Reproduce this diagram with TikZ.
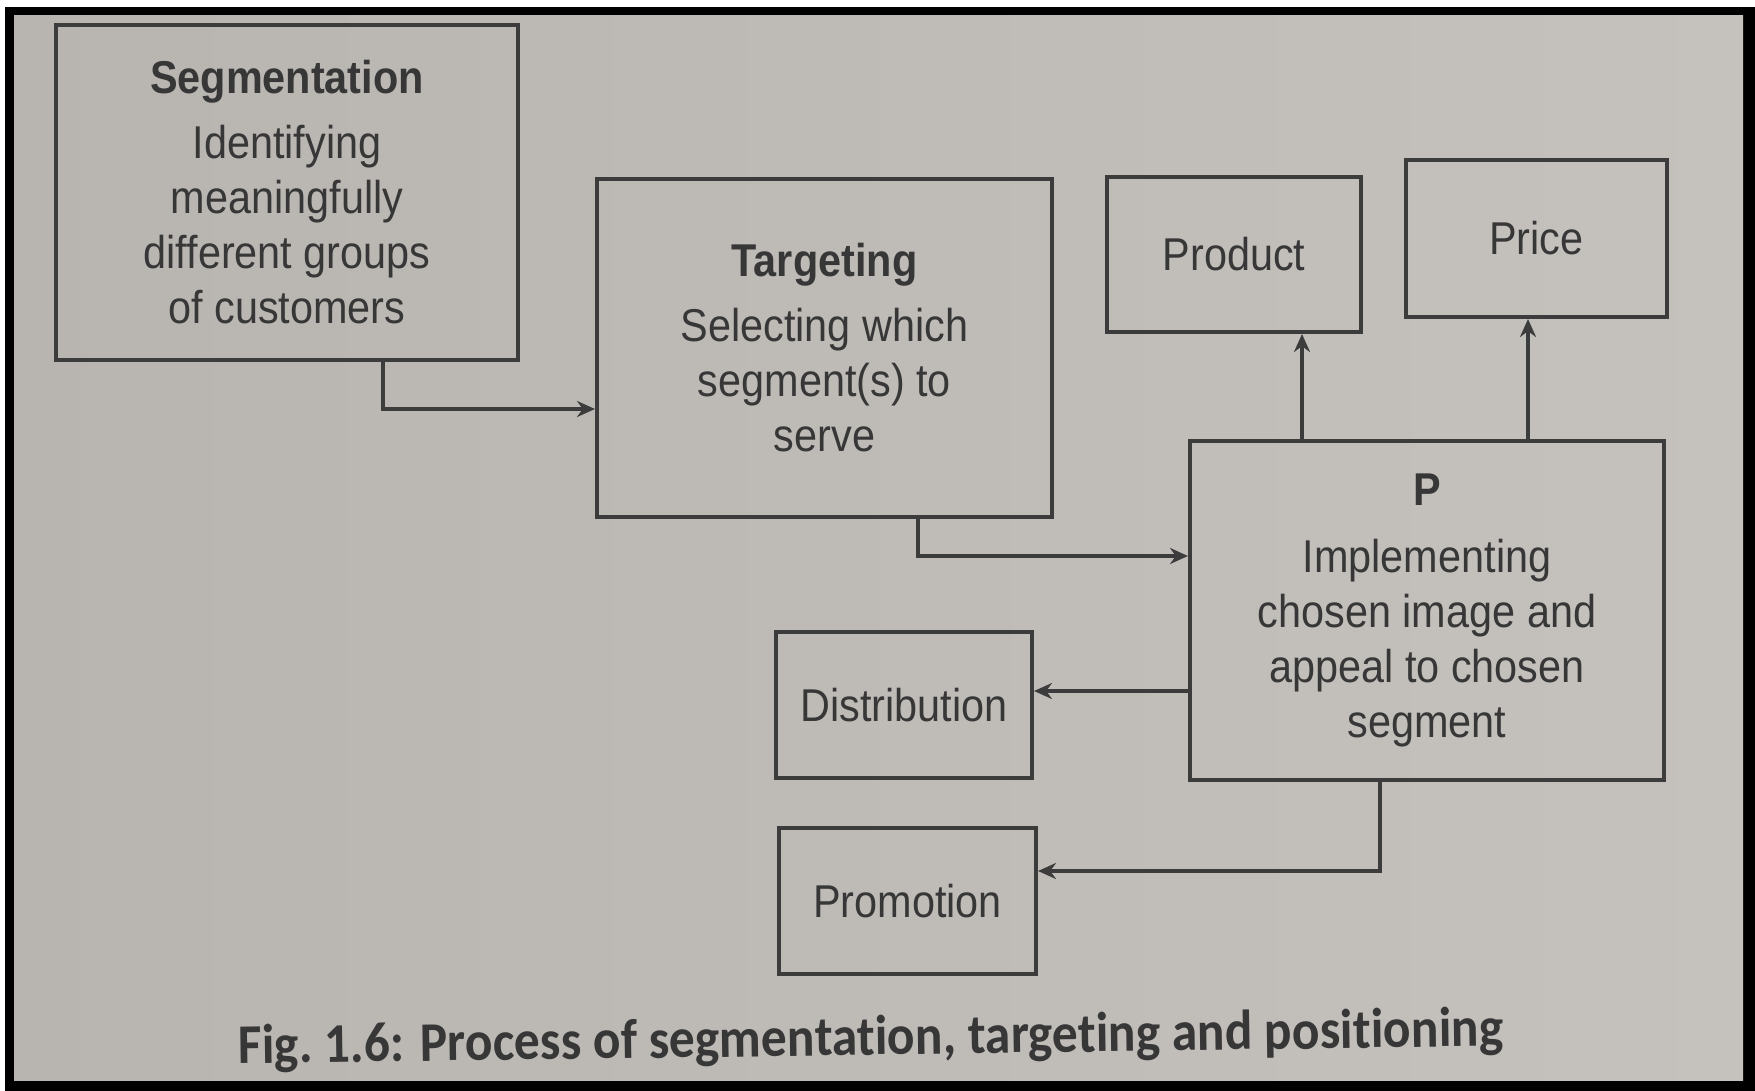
\documentclass[tikz,border=0pt]{standalone}
\usepackage{fontspec}
\setmainfont[FakeStretch=0.9]{Liberation Sans}
\newfontfamily\capfont[Ligatures=NoCommon,FakeStretch=0.92]{Carlito}
\usetikzlibrary{arrows.meta}
\definecolor{paperL}{RGB}{184,181,177}
\definecolor{paperR}{RGB}{197,194,190}
\definecolor{boxline}{RGB}{60,60,60}
\definecolor{inkc}{RGB}{55,55,55}
\newcommand\boxfont{\fontsize{23}{27.5}\selectfont}
\tikzset{
  box/.style={draw=boxline, line width=2pt, align=center, inner sep=0pt, font=\boxfont, text=inkc},
  arr/.style={draw=boxline, line width=1.8pt, -{Stealth[length=9pt,width=8pt]}},
}
\begin{document}
\begin{tikzpicture}[x=0.5pt,y=-0.5pt]
\useasboundingbox (0,0) rectangle (1755,1091);
% frame and paper
\fill[white] (0,0) rectangle (1755,1091);
\fill[black] (5,7) rectangle (1755,1091);
\shade[left color=paperL, right color=paperR] (14,16) rectangle (1743,1080);
% boxes
\node[box, minimum width=231pt, minimum height=167.5pt] (seg) at (287,192.5)
  {\textbf{Segmentation}\\[5pt] Identifying\\ meaningfully\\ different groups\\ of customers};
\node[box, minimum width=227.5pt, minimum height=169pt] (targ) at (824.5,348)
  {\textbf{Targeting}\\[5pt] Selecting which\\ segment(s) to\\ serve};
\node[box, minimum width=127pt, minimum height=77.5pt] (prod) at (1234,254.5) {Product};
\node[box, minimum width=130.5pt, minimum height=78.5pt] (price) at (1536.5,238.5) {Price};
\node[box, minimum width=237pt, minimum height=169.5pt] (p) at (1427,610.5)
  {\textbf{P}\\[6pt] Implementing\\ chosen image and\\ appeal to chosen\\ segment};
\node[box, minimum width=128pt, minimum height=73pt] (dist) at (904,705) {Distribution};
\node[box, minimum width=128.5pt, minimum height=73pt] (promo) at (907.5,901) {Promotion};
% connectors
\coordinate (k1) at (383,409);
\draw[arr] (seg.south -| k1) |- (targ.west |- k1);
\coordinate (k2) at (918,556);
\draw[arr] (targ.south -| k2) |- (p.west |- k2);
\coordinate (k3) at (1302,0);
\draw[arr] (p.north -| k3) -- (prod.south -| k3);
\coordinate (k4) at (1528,0);
\draw[arr] (p.north -| k4) -- (price.south -| k4);
\coordinate (k5) at (0,691);
\draw[arr] (p.west |- k5) -- (dist.east |- k5);
\coordinate (k6) at (1380,871);
\draw[arr] (p.south -| k6) |- (promo.east |- k6);
% caption
\node[text=inkc, font=\capfont\bfseries\fontsize{28}{32}\selectfont, rotate=0.8] (cap) at (871,1040)
  {Fig.\ 1.6: Process of segmentation, targeting and positioning};
\end{tikzpicture}
\end{document}
